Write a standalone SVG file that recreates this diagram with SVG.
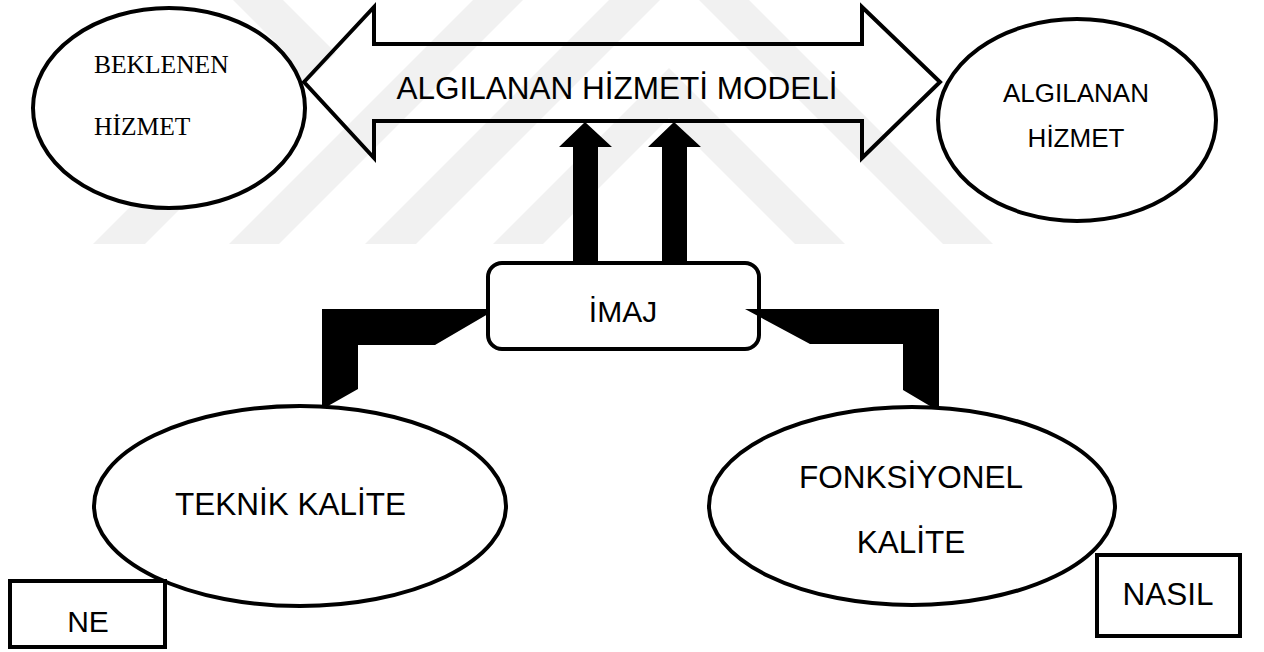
<svg xmlns="http://www.w3.org/2000/svg" width="1264" height="652" viewBox="0 0 1264 652">
<style>
.wm{fill:#f1f1f1;stroke:none}
.node{fill:#fff;stroke:#000;stroke-width:4}
.outline{fill:none;stroke:#000;stroke-width:4;stroke-linejoin:miter}
.solid{fill:#000;stroke:none}
.sans{font-family:"Liberation Sans",Arial,sans-serif;fill:#000}
.serif{font-family:"Liberation Serif","Times New Roman",serif;fill:#000}
</style>
<rect x="0" y="0" width="1264" height="652" fill="#fff"/>
<g id="watermark">
<polygon class="wm" points="93,244 145,244 336,53 283,0 233,0 285,52"/>
<polygon class="wm" points="229,244 279,244 523,0 473,0"/>
<polygon class="wm" points="365,244 416,244 660,0 609,0"/>
<polygon class="wm" points="493,244 543,244 669,118 795,244 845,244 669,68"/>
<polygon class="wm" points="943,244 993,244 749,0 699,0"/>
</g>
<g id="beklenen">
<ellipse class="node" cx="169" cy="108" rx="136" ry="100"/>
<text class="serif" x="94" y="73" font-size="25.5">BEKLENEN</text>
<text class="serif" x="94" y="135" font-size="25.5">HİZMET</text>
</g>
<g id="algilanan">
<ellipse class="node" cx="1077" cy="120" rx="139" ry="101"/>
<text class="sans" x="1076" y="102" font-size="26" text-anchor="middle">ALGILANAN</text>
<text class="sans" x="1076" y="147" font-size="26" text-anchor="middle">HİZMET</text>
</g>
<g id="model">
<path class="outline" d="M304,82 L374,7 L374,44 L862,44 L862,7 L940,82 L862,158 L862,121 L374,121 L374,158 Z"/>
<text class="sans" x="617" y="99" font-size="31.5" text-anchor="middle">ALGILANAN HİZMETİ MODELİ</text>
</g>
<g id="imaj">
<rect class="node" x="488" y="263" width="271" height="86" rx="14" ry="14"/>
<text class="sans" x="623" y="322" font-size="30" text-anchor="middle">İMAJ</text>
</g>
<g id="teknik">
<ellipse class="node" cx="300" cy="506" rx="206" ry="100"/>
<text class="sans" x="175" y="515" font-size="31.5">TEKNİK KALİTE</text>
</g>
<g id="fonksiyonel">
<ellipse class="node" cx="912" cy="506" rx="203" ry="99"/>
<text class="sans" x="911" y="488" font-size="31.5" text-anchor="middle">FONKSİYONEL</text>
<text class="sans" x="911" y="553" font-size="31.5" text-anchor="middle">KALİTE</text>
</g>
<g id="ne">
<rect class="node" x="10" y="581" width="155" height="66"/>
<text class="sans" x="88" y="632" font-size="30" text-anchor="middle">NE</text>
</g>
<g id="nasil">
<rect class="node" x="1097" y="555" width="143" height="81"/>
<text class="sans" x="1168" y="605" font-size="31.5" text-anchor="middle">NASIL</text>
</g>
<g id="connectors">
<path class="solid" d="M573,263 L573,147 L559,147 L585,122 L612,147 L598,147 L598,263 Z"/>
<path class="solid" d="M662,263 L662,147 L648,147 L674,122 L701,147 L687,147 L687,263 Z"/>
<path class="solid" d="M322,309 L488,309 L488,314 L435,345 L358,345 L358,389 L328,406 L322,406 Z"/>
<path class="solid" d="M745,309 L939,309 L939,406 L930,406 L903,390 L903,344 L810,344 Z"/>
</g>
</svg>
